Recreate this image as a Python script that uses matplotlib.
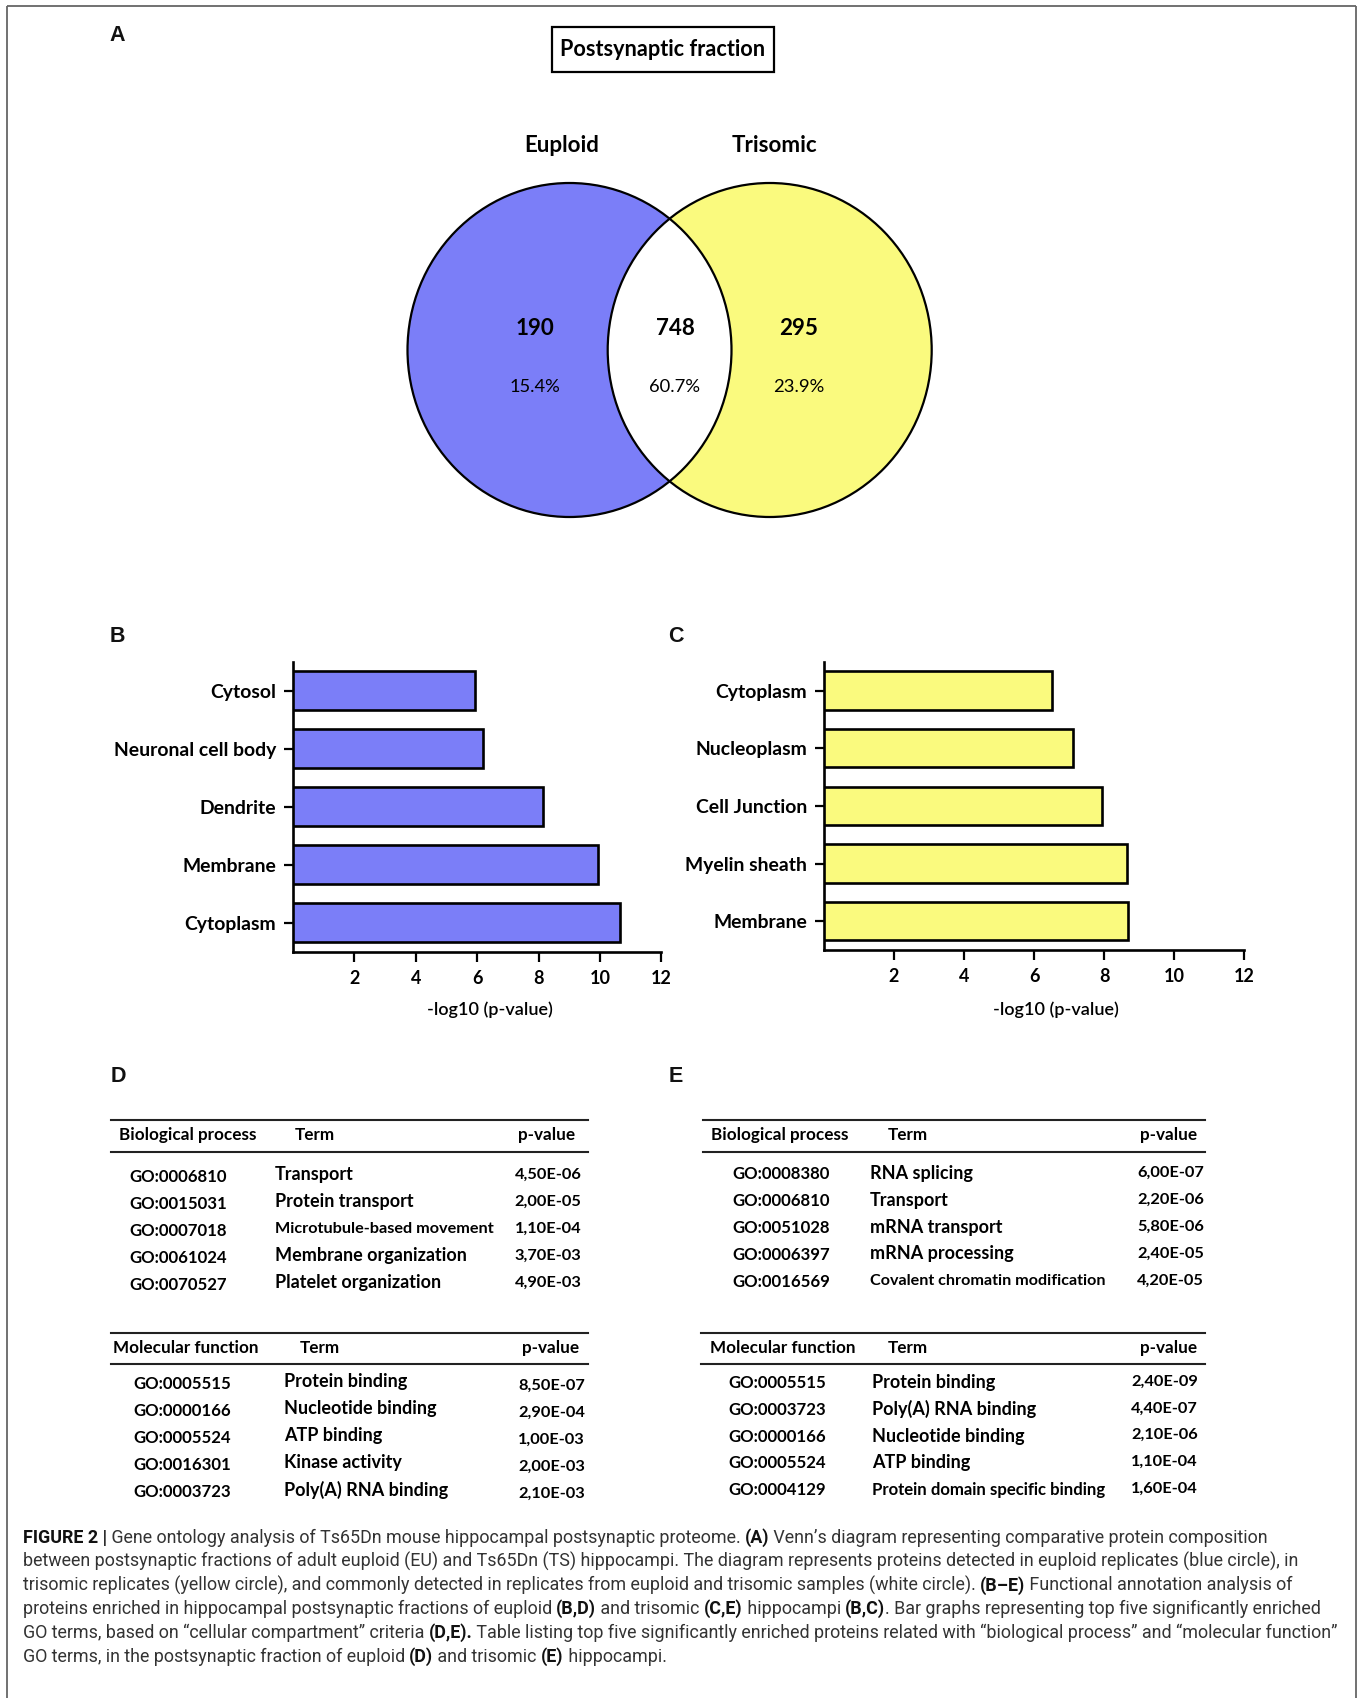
import matplotlib
matplotlib.use("Agg")
import matplotlib.pyplot as plt
from matplotlib.patches import Ellipse, Rectangle

# ---------------- data ----------------
venn_sets = ["Euploid", "Trisomic"]
venn_counts = ["190", "748", "295"]
venn_pcts = ["15.4%", "60.7%", "23.9%"]
venn_title = "Postsynaptic fraction"

eu_terms = ["Cytosol", "Neuronal cell body", "Dendrite", "Membrane", "Cytoplasm"]
eu_vals = [5.94, 6.18, 8.15, 9.94, 10.65]
ts_terms = ["Cytoplasm", "Nucleoplasm", "Cell Junction", "Myelin sheath", "Membrane"]
ts_vals = [6.51, 7.10, 7.94, 8.64, 8.69]
x_ticks = [2, 4, 6, 8, 10, 12]
x_label = "-log10 (p-value)"

d_bp_ids = ["GO:0006810", "GO:0015031", "GO:0007018", "GO:0061024", "GO:0070527"]
d_bp_terms = ["Transport", "Protein transport", "Microtubule-based movement",
              "Membrane organization", "Platelet organization"]
d_bp_p = ["4,50E-06", "2,00E-05", "1,10E-04", "3,70E-03", "4,90E-03"]
d_mf_ids = ["GO:0005515", "GO:0000166", "GO:0005524", "GO:0016301", "GO:0003723"]
d_mf_terms = ["Protein binding", "Nucleotide binding", "ATP binding",
              "Kinase activity", "Poly(A) RNA binding"]
d_mf_p = ["8,50E-07", "2,90E-04", "1,00E-03", "2,00E-03", "2,10E-03"]
e_bp_ids = ["GO:0008380", "GO:0006810", "GO:0051028", "GO:0006397", "GO:0016569"]
e_bp_terms = ["RNA splicing", "Transport", "mRNA transport", "mRNA processing",
              "Covalent chromatin modification"]
e_bp_p = ["6,00E-07", "2,20E-06", "5,80E-06", "2,40E-05", "4,20E-05"]
e_mf_ids = ["GO:0005515", "GO:0003723", "GO:0000166", "GO:0005524", "GO:0004129"]
e_mf_terms = ["Protein binding", "Poly(A) RNA binding", "Nucleotide binding",
              "ATP binding", "Protein domain specific binding"]
e_mf_p = ["2,40E-09", "4,40E-07", "2,10E-06", "1,10E-04", "1,60E-04"]

caption_lines = [
    [("FIGURE 2 |", True), (" Gene ontology analysis of Ts65Dn mouse hippocampal postsynaptic proteome. ", False),
     ("(A)", True), (" Venn\u2019s diagram representing comparative protein composition", False)],
    [("between postsynaptic fractions of adult euploid (EU) and Ts65Dn (TS) hippocampi. The diagram represents "
      "proteins detected in euploid replicates (blue circle), in", False)],
    [("trisomic replicates (yellow circle), and commonly detected in replicates from euploid and trisomic "
      "samples (white circle). ", False), ("(B\u2013E)", True), (" Functional annotation analysis of", False)],
    [("proteins enriched in hippocampal postsynaptic fractions of euploid ", False), ("(B,D)", True),
     (" and trisomic ", False), ("(C,E)", True), (" hippocampi ", False), ("(B,C)", True),
     (". Bar graphs representing top five significantly enriched", False)],
    [("GO terms, based on \u201ccellular compartment\u201d criteria ", False), ("(D,E).", True),
     (" Table listing top five significantly enriched proteins related with \u201cbiological process\u201d "
      "and \u201cmolecular function\u201d", False)],
    [("GO terms, in the postsynaptic fraction of euploid ", False), ("(D)", True), (" and trisomic ", False),
     ("(E)", True), (" hippocampi.", False)],
]

# ---------------- style ----------------
W, H = 1360, 1698
BLUE = "#7B7EF8"
YELLOW = "#FAFA7E"
F = "Lato"
PF = "Liberation Sans"
CF = "Roboto"

fig = plt.figure(figsize=(W / 100, H / 100), dpi=100)
R = fig.canvas.get_renderer()


def wpx(s, fs, **kw):
    t1 = fig.text(0, 0, "|" + s + "|", fontsize=fs, **kw)
    t2 = fig.text(0, 0, "||", fontsize=fs, **kw)
    w = t1.get_window_extent(R).width - t2.get_window_extent(R).width
    t1.remove(); t2.remove()
    return w


def fit(s, target, **kw):
    return 20.0 * target / wpx(s, 20.0, **kw)


ax0 = fig.add_axes([0, 0, 1, 1], zorder=0)
ax0.set_xlim(0, W)
ax0.set_ylim(H, 0)
ax0.axis("off")

# frame
for xs, ys in [([7, 7], [6, H + 5]), ([1356, 1356], [6, H + 5]), ([7, 1356], [6, 6])]:
    ax0.plot(xs, ys, color="#666666", lw=1.3, solid_capstyle="butt")

# panel letters
fsP = 15.5
for lab, x, y in [("A", 117, 35), ("B", 117, 637), ("C", 675.5, 637), ("D", 118, 1077), ("E", 675.5, 1077)]:
    ax0.text(x, y, lab, ha="center", va="center", fontsize=fsP, family=PF, weight="bold", color="#111111")

# ---------------- Venn ----------------
cy, ew, eh = 350, 324, 334
cx1, cx2 = 569.5, 769.7
e1 = Ellipse((cx1, cy), ew, eh, facecolor=BLUE, edgecolor="none", zorder=1)
e2 = Ellipse((cx2, cy), ew, eh, facecolor=YELLOW, edgecolor="none", zorder=1)
ax0.add_patch(e1)
ax0.add_patch(e2)
ew_ = Ellipse((cx1, cy), ew, eh, facecolor="white", edgecolor="none", zorder=2)
ax0.add_patch(ew_)
ew_.set_clip_path(e2)
for cx in (cx1, cx2):
    ax0.add_patch(Ellipse((cx, cy), ew, eh, facecolor="none", edgecolor="black", lw=1.6, zorder=3))

ax0.add_patch(Rectangle((551.6, 27), 222, 45.4, facecolor="white", edgecolor="black", lw=1.6, zorder=3))
ax0.text(662.6, 49.6, venn_title, ha="center", va="center", fontsize=fit(venn_title, 204, family=F, weight="bold"),
         family=F, weight="bold", zorder=4)
fsS = fit("Euploid", 75, family=F, weight="bold")
for s, x in zip(venn_sets, [562, 774.5]):
    ax0.text(x, 145.5, s, ha="center", va="center", fontsize=fsS, family=F, weight="bold")
fsN = fit("190", 39, family=F, weight="bold")
fsC = fit("15.4%", 51, family=F)
for n, p, x in zip(venn_counts, venn_pcts, [535.3, 675, 798.5]):
    ax0.text(x, 328.5, n, ha="center", va="center", fontsize=fsN, family=F, weight="bold", zorder=5)
    ax0.text(x, 387, p, ha="center", va="center", fontsize=fsC, family=F, zorder=5)

# ---------------- bar charts ----------------
fsY = fit("Neuronal cell body", 162, family=F, weight="bold")
fsX = 13.0
fsL = fit(x_label, 125, family=F, weight="semibold")


def bar_panel(rect, terms, vals, color, lab_x):
    l, t, r, b = rect
    ax = fig.add_axes([l / W, 1 - b / H, (r - l) / W, (b - t) / H], zorder=2)
    ax.patch.set_alpha(0)
    ypos = list(range(len(terms)))[::-1]
    ax.barh(ypos, vals, height=0.665, color=color, edgecolor="black", linewidth=1.9, zorder=3)
    ax.set_xlim(0, 12)
    ax.set_ylim(-0.5, 4.5)
    ax.set_yticks(ypos)
    ax.set_yticklabels(terms, fontsize=fsY, family=F, weight="bold")
    ax.set_xticks(x_ticks)
    ax.set_xticklabels([str(v) for v in x_ticks], fontsize=fsX, family=F, weight="bold")
    for s in ("top", "right"):
        ax.spines[s].set_visible(False)
    for s in ("left", "bottom"):
        ax.spines[s].set_linewidth(1.9)
    ax.tick_params(axis="x", direction="out", length=7.5, width=1.6, pad=5.5)
    ax.tick_params(axis="y", direction="out", length=6.5, width=1.6, pad=5.5)
    ax.set_xlabel(x_label, fontsize=fsL, family=F, weight="semibold")
    ax.xaxis.label.set_va("center")
    ax.xaxis.set_label_coords((lab_x - l) / (r - l), -(1010 - b) / (b - t))
    return ax


bar_panel((292.8, 661.7, 661.4, 951.7), eu_terms, eu_vals, BLUE, 490.3)
bar_panel((824.0, 661.7, 1244.3, 950.0), ts_terms, ts_vals, YELLOW, 1055.5)

# ---------------- tables ----------------
TW = "bold"
fsH = fit("Biological process", 137, family=F, weight=TW)
fsR = fit("Protein transport", 138.3, family=F, weight=TW)
fsG = fit("GO:0006810", 98, family=F, weight=TW)
fsV = fit("4,50E-06", 67.3, family=F, weight=TW)


def table(x0, x1, ytop, head, hx, tx, px, ids, terms, pvals, gx, gy, termx, termy, pvx, pvy, step, maxw):
    ax0.plot([x0, x1], [ytop, ytop], color="#222222", lw=1.5)
    ax0.plot([x0, x1], [ytop + 31.5, ytop + 31.5], color="#222222", lw=1.5)
    hy = ytop + 15
    ax0.text(hx, hy, head, ha="left", va="center", fontsize=fsH, family=F, weight=TW)
    ax0.text(tx, hy, "Term", ha="left", va="center", fontsize=fsH, family=F, weight=TW)
    ax0.text(px, hy, "p-value", ha="right", va="center", fontsize=fsH, family=F, weight=TW)
    for i, (g, tm, pv) in enumerate(zip(ids, terms, pvals)):
        ax0.text(gx, gy + i * step, g, ha="left", va="center", fontsize=fsG, family=F, weight=TW)
        fs = fsR
        w = wpx(tm, fsR, family=F, weight=TW)
        if w > maxw:
            fs = fsR * maxw / w
        ax0.text(termx, termy + i * step, tm, ha="left", va="center", fontsize=fs, family=F, weight=TW)
        ax0.text(pvx, pvy + i * step, pv, ha="right", va="center", fontsize=fsV, family=F, weight=TW)


table(110.7, 588.3, 1120, "Biological process", 119, 295, 575, d_bp_ids, d_bp_terms, d_bp_p,
      129.3, 1176.5, 275, 1174.5, 581.7, 1174.3, 27.1, 220)
table(110.7, 588.3, 1332.7, "Molecular function", 113.3, 299.3, 579.3, d_mf_ids, d_mf_terms, d_mf_p,
      133.3, 1384, 284, 1381.5, 585, 1386, 27.0, 220)
table(703.1, 1204.8, 1120, "Biological process", 711.3, 888, 1197.2, e_bp_ids, e_bp_terms, e_bp_p,
      732, 1174.3, 870, 1173.3, 1203.8, 1172.7, 26.9, 237)
table(701.4, 1204.8, 1332.7, "Molecular function", 710, 888, 1197.2, e_mf_ids, e_mf_terms, e_mf_p,
      728.6, 1383.3, 871.8, 1382.7, 1198, 1381.7, 26.7, 235)

# ---------------- caption ----------------
def seg_kw(bold):
    return dict(family=CF, weight="bold" if bold else "normal")


def line_w(segs, fs):
    return sum(wpx(s, fs, **seg_kw(b)) for s, b in segs)


cap_targets = {0: 1260.0, 3: 1311.0, 4: 1309.0}
scales = [10 * tgt / line_w(caption_lines[k], 10) for k, tgt in cap_targets.items()]
fsCap = sum(scales) / len(scales)
for i, segs in enumerate(caption_lines):
    x = 22.7
    y = 1537.7 + i * 23.8
    for s, b in segs:
        ax0.text(x, y, s, ha="left", va="center", fontsize=fsCap, color="#111111" if b else "#333333",
                 **seg_kw(b))
        x += wpx(s, fsCap, **seg_kw(b))

fig.savefig("out.png", dpi=100)
